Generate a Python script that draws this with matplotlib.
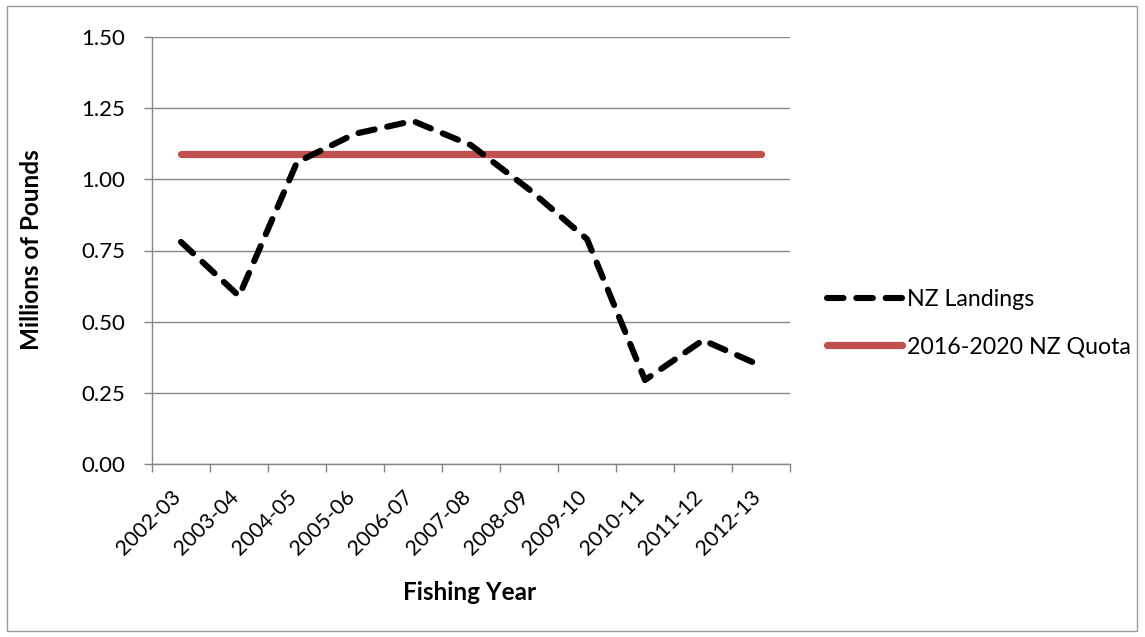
import matplotlib.pyplot as plt
from matplotlib.patches import Rectangle
from matplotlib.transforms import ScaledTranslation

# --- Data ---
years = ['2002-03', '2003-04', '2004-05', '2005-06', '2006-07', '2007-08',
         '2008-09', '2009-10', '2010-11', '2011-12', '2012-13']
landings = [0.78, 0.59, 1.06, 1.16, 1.205, 1.12, 0.965, 0.79, 0.295, 0.435, 0.345]
quota = [1.09] * len(years)

plt.rcParams['font.family'] = ['Lato', 'DejaVu Sans']
grid_col = '#868686'
fs = 16

fig = plt.figure(figsize=(11.45, 6.37), dpi=100)
ax = fig.add_axes([152 / 1145, 1 - 464 / 637, (790 - 152) / 1145, (464 - 37) / 637])

# outer chart border
fig.patches.append(Rectangle((7 / 1145, 6 / 637), 1130 / 1145, 625 / 637,
                             transform=fig.transFigure, fill=False,
                             edgecolor='#9a9a9a', lw=1))

x = list(range(len(years)))
ax.plot(x, landings, color='black', lw=4.4, linestyle=(0, (2.7, 2.1)),
        dash_capstyle='round', solid_capstyle='round', label='NZ Landings', zorder=3)
ax.plot(x, quota, color='#C0504D', lw=5.2, solid_capstyle='round',
        label='2016-2020 NZ Quota', zorder=2)

ax.set_xlim(-0.5, len(years) - 0.5)
ax.set_ylim(0, 1.5)
ax.set_yticks([0, 0.25, 0.5, 0.75, 1.0, 1.25, 1.5])
ax.set_yticklabels([f'{v:.2f}' for v in ax.get_yticks()], fontsize=fs)
ax.yaxis.grid(True, color=grid_col, lw=1)
ax.set_axisbelow(True)

# category labels centred, ticks on bin edges
ax.set_xticks(x)
ax.set_xticklabels(years, rotation=45, ha='right', rotation_mode='anchor', fontsize=15.3)
ax.tick_params(axis='x', length=0, pad=16.5)
shift = ScaledTranslation(-7.5 / 72, 0, fig.dpi_scale_trans)
for lab in ax.get_xticklabels():
    lab.set_transform(lab.get_transform() + shift)
ax.set_xticks([i - 0.5 for i in range(len(years) + 1)], minor=True)
ax.tick_params(axis='x', which='minor', length=6, color=grid_col, width=1)
ax.tick_params(axis='y', length=6, color=grid_col, width=1, pad=13.5)

for s in ['top', 'right']:
    ax.spines[s].set_visible(False)
for s in ['left', 'bottom']:
    ax.spines[s].set_color(grid_col)
    ax.spines[s].set_linewidth(1)

fig.text(32 / 1145, 1 - 250 / 637, 'Millions of Pounds', rotation=90,
         ha='center', va='center', fontsize=fs + 1.5, fontweight='bold')
fig.text(470 / 1145, 1 - 592 / 637, 'Fishing Year',
         ha='center', va='center', fontsize=fs + 1.5, fontweight='bold')

fig.legend(loc='center left', bbox_to_anchor=(827 / 1145, 1 - 323 / 637),
           frameon=False, fontsize=fs + 0.7, handlelength=3.25, handletextpad=0.2,
           labelspacing=1.15, borderaxespad=0, borderpad=0)

fig.savefig('out.png', dpi=100)
